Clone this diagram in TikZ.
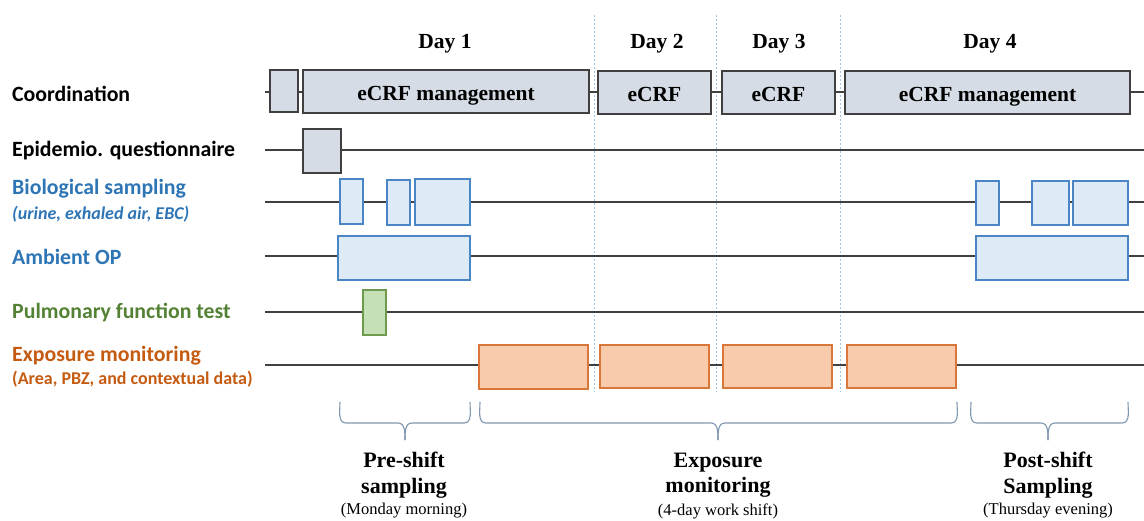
\documentclass[tikz,border=0pt]{standalone}
\usepackage{fontspec}
\setmainfont{Liberation Serif}
\newfontfamily\calfont{Carlito}
\definecolor{lblblue}{HTML}{2E75B6}
\definecolor{lblgreen}{HTML}{548235}
\definecolor{lblorange}{HTML}{C55A11}
\definecolor{gfill}{HTML}{D6DCE5}
\definecolor{gdraw}{HTML}{404040}
\definecolor{bfill}{HTML}{DEEBF7}
\definecolor{bdraw}{HTML}{4A86C5}
\definecolor{grfill}{HTML}{C5E0B4}
\definecolor{grdraw}{HTML}{6E9A4E}
\definecolor{ofill}{HTML}{F8CBAD}
\definecolor{odraw}{HTML}{D9773A}
\definecolor{dashblue}{HTML}{9DC3E6}
\definecolor{bracecol}{HTML}{7F95B0}
\tikzset{
  box/.style={draw, line width=1.4pt, anchor=north west, inner sep=0pt, outer sep=0pt},
  gbox/.style={box, draw=gdraw, fill=gfill, text height=18pt, text depth=0pt, font=\fontsize{21.5}{24}\selectfont\bfseries},
  bbox/.style={box, draw=bdraw, fill=bfill},
  grbox/.style={box, draw=grdraw, fill=grfill},
  obox/.style={box, draw=odraw, fill=ofill},
  row/.style={draw=gdraw, line width=1.2pt},
  lbl/.style={anchor=west, inner sep=0pt, font=\calfont\fontsize{21.8}{24}\selectfont\bfseries},
  sublbl/.style={anchor=west, inner sep=0pt, font=\calfont\fontsize{18}{20}\selectfont\bfseries},
  day/.style={inner sep=0pt, font=\fontsize{21.5}{24}\selectfont\bfseries},
  phase/.style={inner sep=0pt, align=center, font=\fontsize{22}{25.5}\selectfont\bfseries},
  phasesub/.style={inner sep=0pt, font=\fontsize{16.5}{19}\selectfont},
  daysep/.style={draw=dashblue, dashed, dash pattern=on 2pt off 2pt, line width=0.8pt},
  bracepath/.style={draw=bracecol, line width=1.1pt},
}
\newcommand{\bx}[6]{\node[#1, minimum width=#4pt, minimum height=#5pt] (#2) at #3 {#6};}
\begin{document}
\begin{tikzpicture}[x=1pt,y=-1pt]
\useasboundingbox (0,0) rectangle (1144,520);
% day separators
\draw[daysep] (594,15) -- (594,392);
\draw[daysep] (716,15) -- (716,392);
\draw[daysep] (840,15) -- (840,392);
% day labels
\node[day] (d1) at (445,44) {Day 1};
\node[day] (d2) at (657,44) {Day 2};
\node[day] (d3) at (779,44) {Day 3};
\node[day] (d4) at (990,44) {Day 4};
% row labels
\node[lbl] (lc) at (12,94) {Coordination};
\node[lbl] (le) at (12,151) {Epidemio. questionnaire};
\node[lbl, text=lblblue] (lb) at (12,189) {Biological sampling};
\node[sublbl, text=lblblue, font=\calfont\fontsize{18}{20}\selectfont\bfseries\itshape] (lb2) at (12,214) {(urine, exhaled air, EBC)};
\node[lbl, text=lblblue] (la) at (12,257) {Ambient OP};
\node[lbl, text=lblgreen] (lp) at (12,313) {Pulmonary function test};
\node[lbl, text=lblorange] (lx) at (12,356) {Exposure monitoring};
\node[sublbl, text=lblorange] (lx2) at (12,379) {(Area, PBZ, and contextual data)};
% row lines
\foreach \n/\y in {c/92,e/150,b/202,a/256,p/312,x/365}{
  \coordinate (s\n) at (265,\y);
  \coordinate (t\n) at (1144,\y);
  \draw[row] (s\n) -- (t\n);
}
% coordination
\bx{gbox}{c0}{(270,70)}{28}{42}{}
\bx{gbox}{c1}{(303,70)}{286}{43}{eCRF management}
\bx{gbox}{c2}{(598,71)}{113}{43}{eCRF}
\bx{gbox}{c3}{(722,71)}{113}{43}{eCRF}
\bx{gbox}{c4}{(845,71)}{285}{43}{eCRF management}
% epidemio
\bx{gbox}{e1}{(303,129)}{38}{44}{}
% biological
\bx{bbox}{b1}{(340,179)}{23}{45}{}
\bx{bbox}{b2}{(387,180)}{23}{45}{}
\bx{bbox}{b3}{(415,179)}{55}{46}{}
\bx{bbox}{b4}{(976,181)}{23}{44}{}
\bx{bbox}{b5}{(1032,181)}{37}{44}{}
\bx{bbox}{b6}{(1073,181)}{55}{44}{}
% ambient
\bx{bbox}{a1}{(338,236)}{132}{44}{}
\bx{bbox}{a2}{(976,236)}{152}{44}{}
% pulmonary
\bx{grbox}{p1}{(363,290)}{23}{45}{}
% exposure
\bx{obox}{x1}{(479,345)}{109}{44}{}
\bx{obox}{x2}{(600,345)}{109}{43}{}
\bx{obox}{x3}{(723,345)}{109}{43}{}
\bx{obox}{x4}{(847,345)}{109}{43}{}
% braces
\foreach \a/\m/\b/\nm in {340/405/470/pre,480/718/957/exp,971/1048/1128/post}{
  \draw[bracepath] (\a,402) to[out=-90,in=180] (\a+6,423) -- (\m-7,423)
     to[out=0,in=90] (\m,440);
  \draw[bracepath] (\m,440) to[out=90,in=180] (\m+7,423) -- (\b-6,423)
     to[out=0,in=-90] (\b,402);
  \coordinate (tip\nm) at (\m,440);
}
% phase labels
\node[phase] (ph1) at (404,475) {Pre-shift\\sampling};
\node[phasesub] (ph1s) at (404,511) {(Monday morning)};
\node[phase] (ph2) at (718,475) {Exposure\\monitoring};
\node[phasesub] (ph2s) at (718,511) {(4-day work shift)};
\node[phase] (ph3) at (1048,475) {Post-shift\\Sampling};
\node[phasesub] (ph3s) at (1048,511) {(Thursday evening)};
\end{tikzpicture}
\end{document}
